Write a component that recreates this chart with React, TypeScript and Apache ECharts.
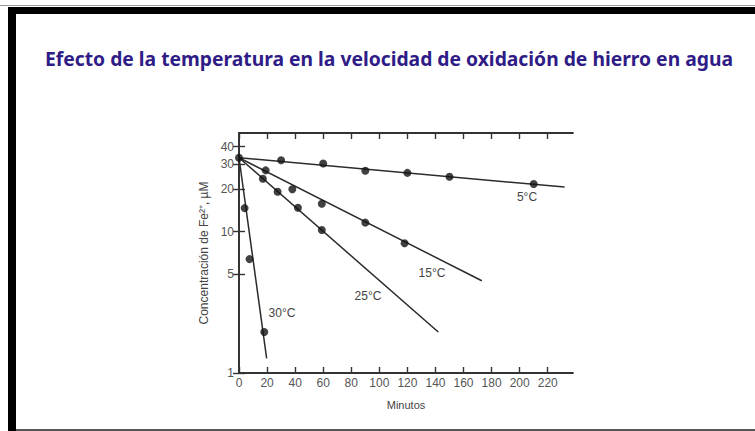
import React, { useEffect, useRef } from "react";
import * as echarts from "echarts";

const chartTitle = "Efecto de la temperatura en la velocidad de oxidación de hierro en agua";
const xName = "Minutos";
const yName = "Concentración de Fe²⁺, µM";
const xTicks = [0, 20, 40, 60, 80, 100, 120, 140, 160, 180, 200, 220];
const yTicks = [1, 5, 10, 20, 30, 40];

const startMinute = 0;
const startConc = 33.4;

const minutes5 = [30, 60, 90, 120, 150, 210];
const conc5 = [32.1, 30.4, 27.0, 26.1, 24.5, 21.8];
const minutes15 = [19, 38, 59, 90, 118];
const conc15 = [27.2, 20.0, 15.8, 11.6, 8.3];
const minutes25 = [17, 27.5, 42, 59];
const conc25 = [23.7, 19.2, 14.8, 10.3];
const minutes30 = [4, 7.5, 18];
const conc30 = [14.7, 6.4, 1.95];

// end points of the fitted lines
const fitEndMinutes = [232, 173, 142, 19.7];
const fitEndConc = [20.7, 4.5, 1.95, 1.27];
const fitLabels = ["5°C", "15°C", "25°C", "30°C"];

export default function App() {
  const ref = useRef<HTMLDivElement>(null);
  useEffect(() => {
    document.body.style.margin = "0";
    const chart = echarts.init(ref.current!, undefined, { renderer: "svg" });
    const pts = (xs: number[], ys: number[]) => xs.map((x, i) => [x, ys[i]]);
    const lineSeries = fitEndMinutes.map((m, i) => ({
      type: "line",
      name: fitLabels[i],
      data: [[startMinute, startConc], [m, fitEndConc[i]]],
      showSymbol: false,
      lineStyle: { color: "#2b2b2b", width: 1.5 },
      silent: true,
      z: 2,
    }));
    const scatterSeries = [
      pts([startMinute], [startConc]),
      pts(minutes5, conc5),
      pts(minutes15, conc15),
      pts(minutes25, conc25),
      pts(minutes30, conc30),
    ].map((d) => ({
      type: "scatter",
      data: d,
      symbolSize: 8,
      itemStyle: { color: "#111" },
      z: 3,
    }));
    const labelFont = "Liberation Sans, Arial, sans-serif";
    const tempStyle = (text: string) => ({
      text,
      fill: "#444",
      font: "12px " + labelFont,
      textAlign: "center",
      textVerticalAlign: "middle",
    });
    chart.setOption({
      animation: false,
      backgroundColor: "#fff",
      grid: { left: 239, right: 182, top: 133, bottom: 58 },
      xAxis: [
        {
          type: "value",
          min: 0,
          max: 238,
          name: xName,
          nameLocation: "middle",
          nameGap: 26,
          nameTextStyle: { color: "#444", fontSize: 11, fontFamily: labelFont },
          axisLine: { lineStyle: { color: "#333", width: 1.8 } },
          axisTick: { inside: true, length: 6, customValues: xTicks, lineStyle: { color: "#333", width: 1.4 } },
          axisLabel: { customValues: xTicks, color: "#555", fontSize: 12, fontFamily: labelFont, margin: 4 },
          splitLine: { show: false },
        },
        {
          type: "value",
          position: "top",
          min: 0,
          max: 238,
          axisLine: { lineStyle: { color: "#333", width: 1.8 } },
          axisTick: { inside: true, length: 6, customValues: xTicks, lineStyle: { color: "#333", width: 1.4 } },
          axisLabel: { show: false },
          splitLine: { show: false },
        },
      ],
      yAxis: [
        {
          type: "log",
          min: 1,
          max: 50,
          name: yName,
          nameLocation: "middle",
          nameGap: 29,
          nameTextStyle: { color: "#444", fontSize: 12, fontFamily: labelFont },
          axisLine: { show: true, lineStyle: { color: "#333", width: 1.8 } },
          axisTick: { show: true, inside: true, length: 6, customValues: yTicks, lineStyle: { color: "#333", width: 1.4 } },
          axisLabel: { customValues: yTicks, color: "#555", fontSize: 12, fontFamily: labelFont, margin: 5 },
          splitLine: { show: false },
          minorTick: { show: false },
        },
        {
          type: "log",
          position: "right",
          min: 1,
          max: 50,
          axisLine: { show: true, lineStyle: { color: "#333", width: 1.8 } },
          axisTick: { show: true, inside: true, length: 6, customValues: yTicks, lineStyle: { color: "#333", width: 1.4 } },
          axisLabel: { show: false },
          splitLine: { show: false },
        },
      ],
      series: [...lineSeries, ...scatterSeries],
      graphic: [
        { type: "rect", shape: { x: 0, y: 5, width: 755, height: 1 }, style: { fill: "#999" } },
        { type: "rect", shape: { x: 8, y: 7, width: 747, height: 7 }, style: { fill: "#000" } },
        { type: "rect", shape: { x: 8, y: 7, width: 8, height: 424 }, style: { fill: "#000" } },
        { type: "rect", shape: { x: 16, y: 429, width: 739, height: 2 }, style: { fill: "#555" } },
        {
          type: "text",
          x: 45,
          y: 58,
          style: {
            text: chartTitle,
            fill: "#2f1c87",
            font: "bold 19.3px 'Noto Sans', sans-serif",
            textVerticalAlign: "middle",
          },
        },
        { type: "text", x: 527, y: 197, style: tempStyle(fitLabels[0]) },
        { type: "text", x: 432, y: 273, style: tempStyle(fitLabels[1]) },
        { type: "text", x: 368, y: 296, style: tempStyle(fitLabels[2]) },
        { type: "text", x: 282, y: 313, style: tempStyle(fitLabels[3]) },
      ],
    });
    return () => chart.dispose();
  }, []);
  return <div ref={ref} style={{ width: 755, height: 431, position: "absolute", left: 0, top: 0 }} />;
}
